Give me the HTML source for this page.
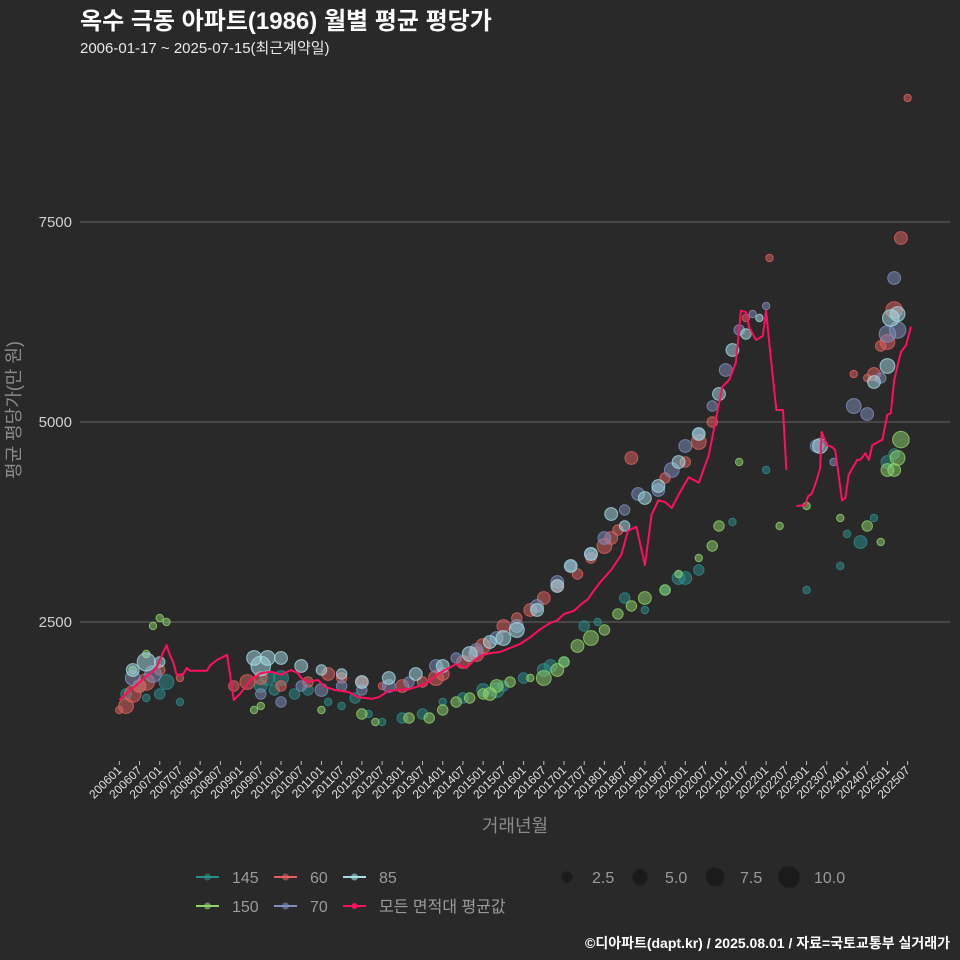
<!DOCTYPE html>
<html><head><meta charset="utf-8">
<style>
body{margin:0;background:#2a292a;}
svg{display:block;font-family:"Liberation Sans","Noto Sans CJK KR",sans-serif;}
</style></head>
<body>
<svg id="chart" width="960" height="960" viewBox="0 0 960 960" xmlns="http://www.w3.org/2000/svg">
<rect width="960" height="960" fill="#2a292a"/>
<text x="80" y="29" fill="#ffffff" font-size="24" font-weight="bold">옥수 극동 아파트(1986) 월별 평균 평당가</text>
<text x="80" y="53" fill="#e8e8e8" font-size="15">2006-01-17 ~ 2025-07-15(최근계약일)</text>
<g id="grid"></g>
<g id="points"></g>
<g id="line"></g>
<g id="xaxis"></g>
<text x="20" y="410" fill="#8a8a8a" font-size="18" text-anchor="middle" transform="rotate(-90 20 410)">평균 평당가(만 원)</text>
<text x="515" y="832" fill="#8a8a8a" font-size="18" text-anchor="middle">거래년월</text>
<g id="legend"></g>
<text x="950" y="948" fill="#ffffff" font-size="14" font-weight="bold" text-anchor="end">©디아파트(dapt.kr) / 2025.08.01 / 자료=국토교통부 실거래가</text>
</svg>
<script>
// ---- data ----
const yTicks = [2500, 5000, 7500];
const xTickLabels = [];
for (let y = 2006; y <= 2025; y++) { xTickLabels.push(y + "01"); xTickLabels.push(y + "07"); }
// mean line: month index from 2006-01, value (null = gap)
const lineMonths = [0,5,11,12,14,15,16,17,19,20,21,26,27,29,32,34,36,39,42,45,48,51,53,54,56,59,61,64,68,71,75,77,80,86,91,95,100,103,105,107,110,113,116,119,122,125,128,130,132,135,137,139,141,143,146,149,151,153.5,156,158,160,162,164,166,169,172,175,177,179,181,183,184.5,186,187,189,191,192,193,195,197,198,199,201,203.5,204.5,205.5,206.5,207,208,208.5,210,211.5,212.5,213.5,214.5,215.5,216.5,219,220,221.5,222.5,223.5,226.5,228,229,230,232,233.5,235];
const lineValues = [1525,1710,1925,2025,2210,2090,2000,1840,1850,1925,1890,1890,1960,2025,2090,1525,1610,1775,1860,1880,1840,1900,1860,1800,1750,1775,1690,1650,1625,1560,1540,1560,1640,1660,1725,1860,1975,1925,2010,2075,2110,2125,2175,2225,2310,2410,2490,2520,2600,2640,2720,2780,2900,3010,3150,3340,3640,3690,3210,3840,4020,4000,3925,4090,4310,4240,4590,5020,5440,5525,5740,6390,6375,6180,6025,6075,6390,5960,5150,5150,4400,null,3950,3960,4075,4100,4210,4275,4425,4875,4710,4690,4650,4340,4020,4050,4340,4525,4530,4610,4525,4710,4780,5090,5110,5525,5875,5960,6190];
// scatter: [month, value, count]
const s145 = [[2,1600,2],[6,1700,3],[8,1550,1],[12,1600,2],[14,1750,4],[18,1500,1],[42,1700,3],[44,1800,4],[46,1650,2],[48,1800,4],[52,1600,2],[56,1650,2],[62,1500,1],[66,1450,1],[70,1550,2],[74,1350,1],[78,1250,1],[84,1300,2],[90,1350,2],[96,1500,1],[102,1550,2],[108,1650,3],[112,1650,4],[114,1700,2],[120,1800,2],[126,1900,3],[128,1950,3],[132,2000,2],[138,2450,2],[142,2500,1],[150,2800,2],[156,2650,1],[162,2900,2],[166,3050,3],[168,3050,3],[172,3150,2],[182,3750,1],[192,4400,1],[214,3200,1],[216,3600,1],[220,3500,3],[224,3800,1],[228,4500,3],[230,4600,2],[204,2900,1]];
const s150 = [[4,1900,1],[8,2100,1],[10,2450,1],[12,2550,1],[14,2500,1],[40,1400,1],[42,1450,1],[60,1400,1],[72,1350,2],[76,1250,1],[86,1300,2],[92,1300,2],[96,1400,2],[100,1500,2],[104,1550,2],[108,1600,2],[110,1600,3],[112,1700,3],[116,1750,2],[122,1800,1],[126,1800,4],[130,1900,3],[132,2000,2],[136,2200,3],[140,2300,4],[144,2400,2],[148,2600,2],[152,2700,2],[156,2800,3],[162,2900,2],[166,3100,1],[172,3300,1],[176,3450,2],[178,3700,2],[184,4500,1],[196,3700,1],[204,3950,1],[214,3800,1],[222,3700,2],[226,3500,1],[228,4400,3],[230,4400,3],[232,4780,5],[231,4550,4]];
const s60 = [[0,1400,1],[2,1450,4],[4,1600,5],[6,1700,3],[8,1750,5],[12,1900,2],[18,1800,1],[34,1700,2],[38,1750,4],[42,1800,3],[48,1700,2],[56,1750,2],[62,1850,3],[66,1800,2],[72,1750,2],[78,1700,1],[84,1700,3],[90,1750,2],[94,1800,4],[96,1850,3],[102,2000,3],[106,2100,4],[108,2200,4],[114,2450,3],[118,2550,2],[122,2650,3],[126,2800,3],[130,2950,2],[136,3100,2],[140,3300,2],[144,3450,4],[146,3550,3],[148,3650,2],[152,4550,3],[162,4300,2],[168,4500,2],[172,4750,4],[176,5000,2],[186,6300,1],[193,7050,1],[218,5600,1],[222,5550,1],[224,5600,3],[226,5950,2],[228,6000,4],[230,6400,5],[232,7300,3],[234,9050,1]];
const s70 = [[4,1800,4],[10,1850,5],[42,1600,2],[48,1500,2],[54,1700,2],[60,1650,3],[66,1700,2],[72,1650,2],[80,1700,3],[86,1750,2],[94,1950,3],[100,2050,2],[106,2150,3],[112,2300,3],[118,2450,3],[124,2700,3],[130,3000,3],[134,3200,2],[140,3350,3],[144,3550,3],[150,3900,2],[154,4100,3],[160,4150,3],[164,4400,4],[168,4700,3],[172,4850,2],[176,5200,2],[180,5650,3],[184,6150,2],[188,6350,1],[192,6450,1],[207,4700,3],[212,4500,1],[218,5200,4],[222,5100,3],[226,5550,2],[228,6100,5],[230,6800,3],[231,6150,5]];
const s85 = [[4,1900,3],[8,2000,6],[12,2000,2],[40,2050,4],[42,1950,7],[44,2050,4],[48,2050,3],[54,1950,3],[60,1900,2],[66,1850,2],[72,1750,3],[80,1800,3],[88,1850,3],[96,1950,3],[104,2100,4],[110,2250,3],[114,2300,4],[118,2400,4],[124,2650,3],[130,2950,3],[134,3200,3],[140,3350,3],[146,3850,3],[150,3700,2],[156,4050,3],[160,4200,3],[166,4500,3],[172,4850,3],[178,5350,3],[182,5900,3],[186,6100,2],[190,6300,1],[208,4700,4],[224,5500,3],[228,5700,4],[229,6300,5],[231,6350,4]];
const seriesNames = ["145","150","60","70","85"];
const seriesColors = ["#2a8f8c","#8ed46a","#e0625e","#7d90bd","#a6dde6"];
const sizeLegendValues = [2.5, 5.0, 7.5, 10.0];

// ---- scales ----
const X0 = 119.3, PXM = 3.369;
function xS(m){ return X0 + m * PXM; }
function yS(v){ return 622 - (v - 2500) * 0.08; }
function rS(n){ return 3.7 * Math.sqrt(n); }
const NS = "http://www.w3.org/2000/svg";
function mk(tag, attrs, parent){ const e = document.createElementNS(NS, tag); for (const k in attrs) e.setAttribute(k, attrs[k]); parent.appendChild(e); return e; }

// grid + y labels
const grid = document.getElementById("grid");
yTicks.forEach(t => {
  const l = mk("line", {x1:80, x2:950, y1:yS(t), y2:yS(t), stroke:"#5a5a5a", "stroke-width":1.2}, grid);
  
  
  const tx = mk("text", {x:72, y:yS(t)+5, fill:"#cfcfcf", "font-size":15, "text-anchor":"end"}, grid);
  tx.textContent = t;
  
  
});

// x axis
const xa = document.getElementById("xaxis");
xTickLabels.forEach((lab, i) => {
  const x = xS(i * 6);
  const tk = mk("line", {x1:x, x2:x, y1:761, y2:765, stroke:"#bbbbbb", "stroke-width":1}, xa);
  
  
  const t = mk("text", {x:x+3, y:771, fill:"#e0e0e0", "font-size":12, "text-anchor":"end", transform:`rotate(-45 ${x+3} 771)`}, xa);
  t.textContent = lab;
  
  
});

// points
const pg = document.getElementById("points");
[s145, s150, s60, s70, s85].forEach((arr, si) => {
  arr.forEach(p => {
    const c = mk("circle", {cx:xS(p[0]), cy:yS(p[1]), r:rS(p[2]), fill:seriesColors[si], "fill-opacity":0.5, stroke:seriesColors[si], "stroke-opacity":0.8, "stroke-width":1}, pg);
    
    
  });
});

// mean line
const lg = document.getElementById("line");
let d = "", pen = false;
lineMonths.forEach((m, i) => {
  const v = lineValues[i];
  if (v === null) { pen = false; return; }
  d += (pen ? "L" : "M") + xS(m).toFixed(1) + "," + yS(v).toFixed(1);
  pen = true;
});
const path = mk("path", {d:d, fill:"none", stroke:"#ff0f5f", "stroke-width":2, "stroke-linejoin":"round"}, lg);



// legend
const leg = document.getElementById("legend");
const legPos = [[196,877,"145",0],[196,906,"150",1],[274,877,"60",2],[274,906,"70",3],[343,877,"85",4]];
legPos.forEach(p => {
  const g = mk("g", {}, leg);
  
  
  mk("line", {x1:p[0], x2:p[0]+23, y1:p[1], y2:p[1], stroke:seriesColors[p[3]], "stroke-width":2}, g);
  mk("circle", {cx:p[0]+11.5, cy:p[1], r:3.5, fill:seriesColors[p[3]], "fill-opacity":0.6}, g);
  const t = mk("text", {x:p[0]+36, y:p[1]+6, fill:"#9a9a9a", "font-size":16}, g);
  t.textContent = p[2];
});
const gm = mk("g", {}, leg);


mk("line", {x1:343, x2:366, y1:906, y2:906, stroke:"#ff0f5f", "stroke-width":2}, gm);
mk("circle", {cx:354.5, cy:906, r:3, fill:"#ff0f5f"}, gm);
const tm = mk("text", {x:379, y:912, fill:"#9a9a9a", "font-size":16}, gm);
tm.textContent = "모든 면적대 평균값";
const sizeX = [567, 640, 715, 789];
sizeLegendValues.forEach((s, i) => {
  const g = mk("g", {}, leg);
  
  
  mk("circle", {cx:sizeX[i], cy:877, r:3.4*Math.sqrt(s), fill:"#1c1b1c", stroke:"#202020"}, g);
  const t = mk("text", {x:sizeX[i]+25, y:883, fill:"#9a9a9a", "font-size":16}, g);
  t.textContent = s.toFixed(1);
});
</script>
</body></html>
